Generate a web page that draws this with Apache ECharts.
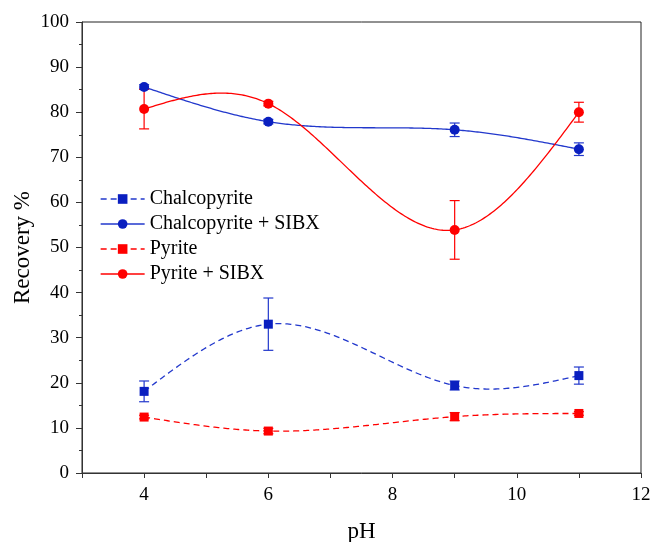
<!DOCTYPE html>
<html>
<head>
<meta charset="utf-8">
<script src="https://cdn.jsdelivr.net/npm/echarts@6/dist/echarts.min.js"></script>
<style>
  html, body { margin: 0; background: #fff; }
  #chart { width: 651px; height: 542px; }
</style>
</head>
<body>
<div id="chart"></div>
<script>
// measured points (pH vs recovery %), error = half bar height
const phValues = [4, 6, 9, 11];
const chalco = [18.1, 33.0, 19.4, 21.6];
const chalcoErr = [2.3, 5.8, 1.0, 1.9];
const chalcoSibx = [85.6, 77.9, 76.1, 71.8];
const chalcoSibxErr = [0.5, 0.5, 1.5, 1.4];
const pyrite = [12.4, 9.3, 12.5, 13.2];
const pyriteErr = [0.4, 0.6, 0.9, 0.4];
const pyriteSibx = [80.7, 81.9, 53.9, 80.0];
const pyriteSibxErr = [4.4, 0.5, 6.5, 2.2];

const BLUE = '#0a1fc0';
const BLUE_LINE = '#2238cc';
const RED = '#ff0000';
const FONT = 'Liberation Serif';

// natural cubic spline through the points, like Origin's "spline" connector
function spline(xs, ys) {
  const n = xs.length;
  const h = [], alpha = [], l = [1], mu = [0], z = [0];
  const b = [], c = new Array(n).fill(0), d = [];
  for (let i = 0; i < n - 1; i++) h[i] = xs[i + 1] - xs[i];
  for (let i = 1; i < n - 1; i++) {
    alpha[i] = 3 / h[i] * (ys[i + 1] - ys[i]) - 3 / h[i - 1] * (ys[i] - ys[i - 1]);
    l[i] = 2 * (xs[i + 1] - xs[i - 1]) - h[i - 1] * mu[i - 1];
    mu[i] = h[i] / l[i];
    z[i] = (alpha[i] - h[i - 1] * z[i - 1]) / l[i];
  }
  for (let j = n - 2; j >= 0; j--) {
    c[j] = z[j] - mu[j] * c[j + 1];
    b[j] = (ys[j + 1] - ys[j]) / h[j] - h[j] * (c[j + 1] + 2 * c[j]) / 3;
    d[j] = (c[j + 1] - c[j]) / (3 * h[j]);
  }
  return function (x) {
    let j = 0;
    while (j < n - 2 && x > xs[j + 1]) j++;
    const dx = x - xs[j];
    return ys[j] + b[j] * dx + c[j] * dx * dx + d[j] * dx * dx * dx;
  };
}

function curveSeries(name, ys, color, dashed) {
  const f = spline(phValues, ys);
  return {
    type: 'custom',
    name: name,
    silent: true,
    z: 2,
    data: [[phValues[0], ys[0]]],
    renderItem: function (params, api) {
      const x0 = phValues[0], x1 = phValues[phValues.length - 1];
      const pts = [];
      for (let k = 0; k <= 240; k++) {
        const x = x0 + (x1 - x0) * k / 240;
        pts.push(api.coord([x, f(x)]));
      }
      return {
        type: 'polyline',
        shape: { points: pts },
        style: { stroke: color, lineWidth: 1.3, fill: null, lineDash: dashed ? [6, 4] : null }
      };
    }
  };
}

function errorSeries(ys, errs, color) {
  return {
    type: 'custom',
    silent: true,
    z: 3,
    encode: { x: 0, y: [1, 2] },
    data: phValues.map((x, i) => [x, ys[i] - errs[i], ys[i] + errs[i]]),
    renderItem: function (params, api) {
      const lo = api.coord([api.value(0), api.value(1)]);
      const hi = api.coord([api.value(0), api.value(2)]);
      const w = 5;
      const st = { stroke: color, lineWidth: 1.2 };
      return {
        type: 'group',
        children: [
          { type: 'line', shape: { x1: lo[0], y1: lo[1], x2: hi[0], y2: hi[1] }, style: st },
          { type: 'line', shape: { x1: lo[0] - w, y1: lo[1], x2: lo[0] + w, y2: lo[1] }, style: st },
          { type: 'line', shape: { x1: hi[0] - w, y1: hi[1], x2: hi[0] + w, y2: hi[1] }, style: st }
        ]
      };
    }
  };
}

function markerSeries(name, ys, symbol, color) {
  return {
    type: 'line',
    name: name,
    data: phValues.map((x, i) => [x, ys[i]]),
    symbol: symbol,
    symbolSize: symbol === 'circle' ? 10 : 9,
    showAllSymbol: true,
    itemStyle: { color: color },
    lineStyle: { opacity: 0 },
    emphasis: { disabled: true },
    z: 4
  };
}

function legendItem(name, color, lineColor, dashed) {
  return {
    name: name,
    itemStyle: { color: color },
    lineStyle: { color: lineColor, opacity: 1, width: 1.3, type: dashed ? [6, 4] : 'solid' }
  };
}

const chart = echarts.init(document.getElementById('chart'));

const axisLine = { show: true, lineStyle: { color: '#333', width: 1 } };

chart.setOption({
  animation: false,
  backgroundColor: '#fff',
  grid: {
    left: 82, right: 10, top: 22, bottom: 69,
    containLabel: false,
    outerBoundsMode: 'none',
    show: true, borderColor: '#222', borderWidth: 1
  },
  legend: {
    left: 100,
    top: 189,
    padding: 0,
    orient: 'vertical',
    itemWidth: 44,
    itemHeight: 12,
    itemGap: 5,
    textStyle: { fontFamily: FONT, fontSize: 20, color: '#000', lineHeight: 19 },
    data: [
      legendItem('Chalcopyrite', BLUE, BLUE_LINE, true),
      legendItem('Chalcopyrite + SIBX', BLUE, BLUE_LINE, false),
      legendItem('Pyrite', RED, RED, true),
      legendItem('Pyrite + SIBX', RED, RED, false)
    ]
  },
  xAxis: {
    type: 'value',
    min: 3,
    max: 12,
    interval: 1,
    name: 'pH',
    nameLocation: 'middle',
    nameGap: 47,
    nameMoveOverlap: false,
    nameTextStyle: { fontFamily: FONT, fontSize: 23, color: '#000' },
    axisLine: axisLine,
    axisTick: { show: true, length: 5, lineStyle: { color: '#333' } },
    axisLabel: {
      margin: 13,
      fontFamily: FONT,
      fontSize: 19,
      color: '#000',
      formatter: v => (v % 2 === 0 ? String(v) : '')
    },
    splitLine: { show: false }
  },
  yAxis: {
    type: 'value',
    min: 0,
    max: 100,
    interval: 10,
    name: 'Recovery %',
    nameLocation: 'middle',
    nameGap: 48,
    nameMoveOverlap: false,
    nameTextStyle: { fontFamily: FONT, fontSize: 23, color: '#000' },
    axisLine: axisLine,
    axisTick: { show: true, length: 6, lineStyle: { color: '#333' } },
    minorTick: { show: true, splitNumber: 2, length: 3, lineStyle: { color: '#333' } },
    axisLabel: { margin: 13, fontFamily: FONT, fontSize: 19, color: '#000' },
    splitLine: { show: false }
  },
  series: [
    curveSeries('c1', chalco, BLUE_LINE, true),
    curveSeries('c2', chalcoSibx, BLUE_LINE, false),
    curveSeries('c3', pyrite, RED, true),
    curveSeries('c4', pyriteSibx, RED, false),
    errorSeries(chalco, chalcoErr, BLUE_LINE),
    errorSeries(chalcoSibx, chalcoSibxErr, BLUE_LINE),
    errorSeries(pyrite, pyriteErr, RED),
    errorSeries(pyriteSibx, pyriteSibxErr, RED),
    markerSeries('Chalcopyrite', chalco, 'rect', BLUE),
    markerSeries('Chalcopyrite + SIBX', chalcoSibx, 'circle', BLUE),
    markerSeries('Pyrite', pyrite, 'rect', RED),
    markerSeries('Pyrite + SIBX', pyriteSibx, 'circle', RED)
  ]
});
</script>
</body>
</html>
